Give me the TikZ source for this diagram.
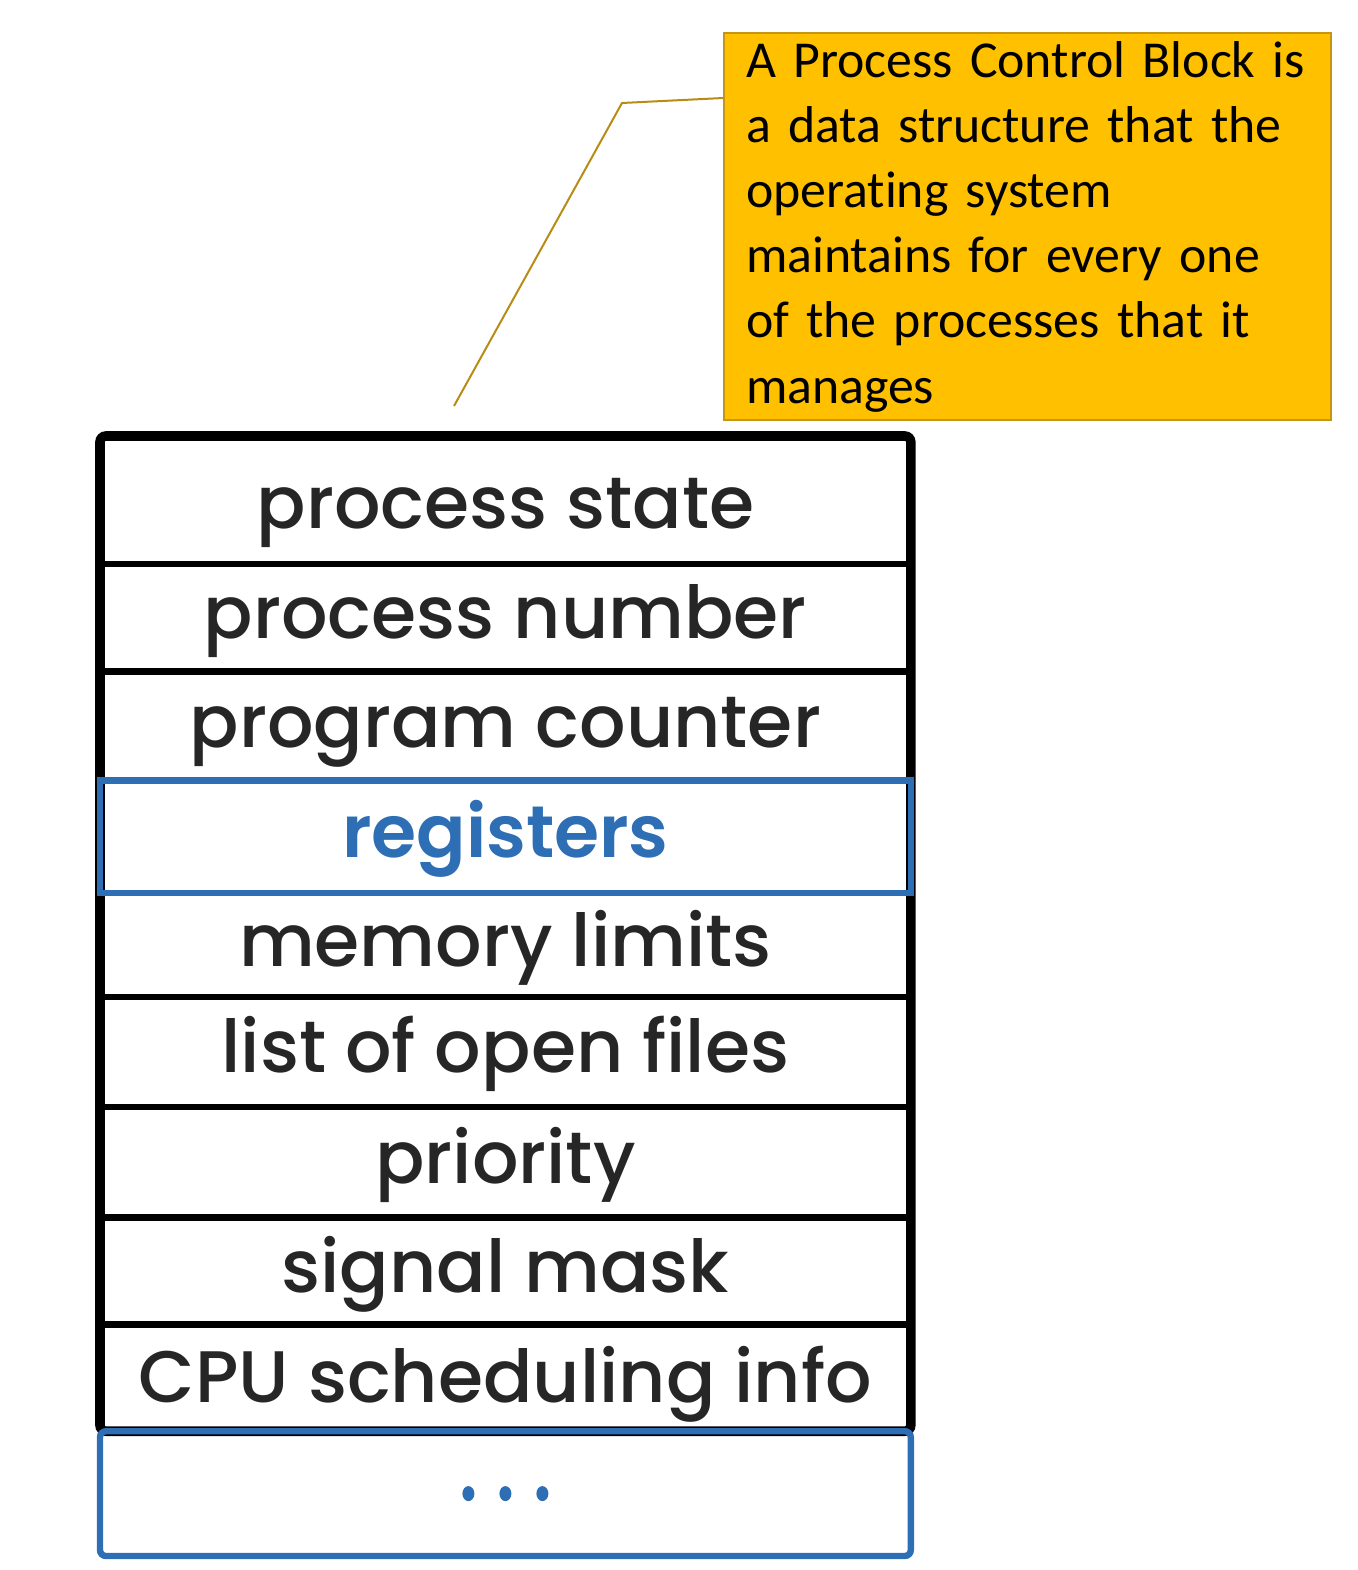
\documentclass[tikz,border=0pt]{standalone}
\usepackage{fontspec}
\setmainfont{Carlito}[Ligatures=NoCommon]
\newfontfamily\pcbfont{Poppins}[UprightFont={* Medium},BoldFont={* SemiBold}]
\usetikzlibrary{calc}
\definecolor{pcbblue}{RGB}{46,110,180}
\definecolor{calloutfill}{RGB}{255,192,0}
\definecolor{calloutedge}{RGB}{196,150,20}
\definecolor{leadercol}{RGB}{184,140,20}
\definecolor{ink}{RGB}{38,38,38}
\begin{document}
\begin{tikzpicture}[x=0.5pt,y=-0.5pt,
  row/.style={rectangle, minimum width=405pt, inner sep=0pt, text height=21pt, text depth=0pt,
    font=\pcbfont\fontsize{36.5}{36.5}\selectfont, text=ink, anchor=north},
  blackline/.style={draw=black, line width=3.3pt},
  blueline/.style={draw=pcbblue, line width=3.2pt},
  frame/.style={draw=black, line width=4.8pt, rounded corners=3pt},
  callout/.style={rectangle, fill=calloutfill, draw=calloutedge, line width=1pt,
    inner xsep=11pt, inner ysep=0pt, align=left, text=black,
    font=\fontsize{25.9}{32.6}\selectfont, anchor=north west},
  leader/.style={draw=leadercol, line width=1pt}]
\useasboundingbox (0,0) rectangle (1357,1570);
% callout
\node[callout, minimum width=303.5pt, minimum height=193.5pt, text width=281.5pt] (callout) at (723,32)
  {A Process Control Block is\\ a data structure that the\\ operating system\\ maintains for every one\\ of the processes that it\\ manages};
\coordinate (k1) at (622,103);
\coordinate (k2) at (454,406);
\draw[leader] ($(callout.north west)+(0,66)$) -- (k1) -- (k2);
% rows
\node[row, minimum height=63.5pt, anchor=north west, text height=28.5pt] (r1) at (100,436) {process state};
\node[row, minimum height=53.5pt] (r2) at (r1.south) {process number};
\node[row, minimum height=54pt] (r3) at (r2.south) {program counter};
\node[row, minimum height=56pt, text=pcbblue] (r4) at (r3.south) {\bfseries registers};
\node[row, minimum height=51.5pt] (r5) at (r4.south) {memory limits};
\node[row, minimum height=54.5pt] (r6) at (r5.south) {list of open files};
\node[row, minimum height=55pt] (r7) at (r6.south) {priority};
\node[row, minimum height=53pt] (r8) at (r7.south) {signal mask};
\node[row, minimum height=53pt, text height=25pt] (r9) at (r8.south) {CPU scheduling info};
\node[row, minimum height=62pt] (r10) at (r9.south) {};
% separators
\foreach \i in {1,2,5,6,7,8} {
  \draw[blackline] (r\i.south west) -- (r\i.south east);
}
\draw[frame] (r1.north west) rectangle (r9.south east);
\draw[blueline] (r4.north west) rectangle (r4.south east);
\draw[blueline, rounded corners=3pt] (r10.north west) rectangle (r10.south east);
% dots
\foreach \dx in {-37,0,37} {
  \fill[pcbblue] ($(r10.center)+(\dx,0)$) ellipse [x radius=6, y radius=7.5];
}
\end{tikzpicture}
\end{document}
